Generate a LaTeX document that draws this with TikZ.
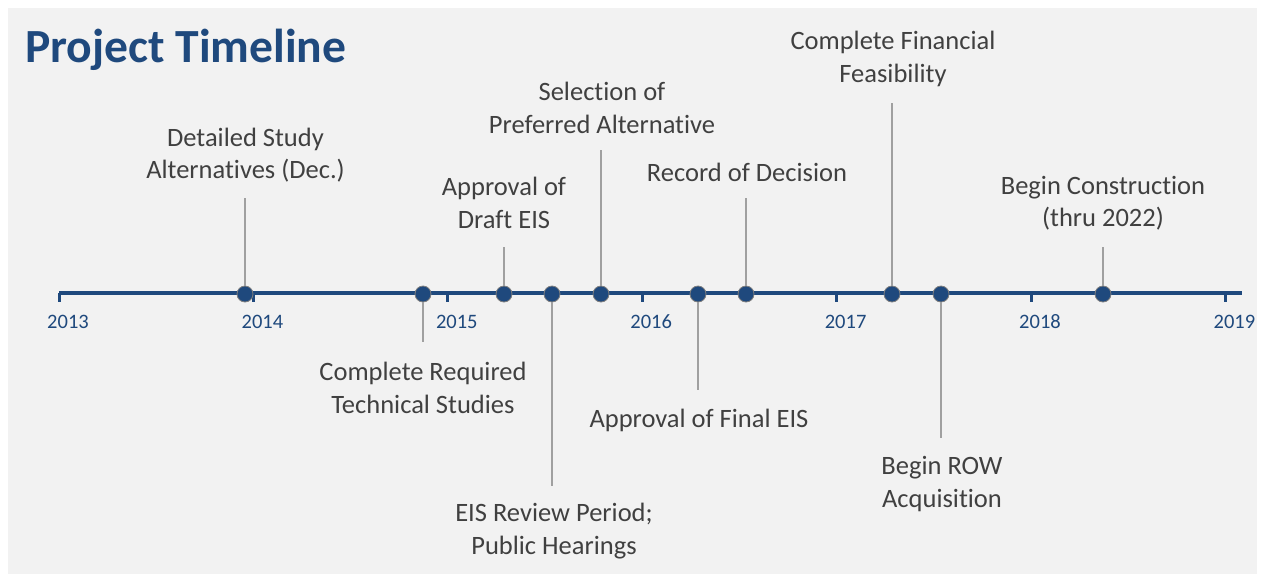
\documentclass[tikz,border=0pt]{standalone}
\usepackage{fontspec}
\setmainfont{Carlito}[Ligatures={NoCommon}]
\definecolor{tlblue}{HTML}{1F497D}
\definecolor{bggray}{HTML}{F2F2F2}
\definecolor{txtgray}{HTML}{404040}
\definecolor{conngray}{HTML}{A0A0A0}
\definecolor{dotedge}{HTML}{7F7F7F}
\tikzset{
  ev/.style={circle, minimum size=16pt, inner sep=0pt, fill=tlblue, draw=dotedge, line width=0.8pt},
  lbl/.style={align=center, text=txtgray, font=\fontsize{26.5}{32.5}\selectfont, inner sep=0pt},
  yr/.style={text=tlblue, font=\fontsize{20.5}{22}\selectfont, inner sep=0pt},
  conn/.style={draw=conngray, line width=1.2pt},
  axis/.style={draw=tlblue, line width=4pt},
  tick/.style={draw=tlblue, line width=3pt}
}
\begin{document}
\begin{tikzpicture}[x=1pt,y=-1pt]
\useasboundingbox (0,0) rectangle (1264,574);
\fill[white] (0,0) rectangle (1264,574);
\fill[bggray] (8,8) rectangle (1257,574);
\node[anchor=west, text=tlblue, font=\fontsize{47.6}{50}\selectfont\bfseries, inner sep=0pt] (title) at (25,50) {Project Timeline};
% axis
\coordinate (a0) at (59,293);
\coordinate (a1) at (1242,293);
\draw[axis] (a0) -- (a1);
\foreach \i/\y in {0/2013,1/2014,2/2015,3/2016,4/2017,5/2018,6/2019}{
  \coordinate (t\y) at ({59+194.4*\i},293);
  \draw[tick] (t\y) -- ++(0,9);
  \node[yr] (y\y) at ({59+194.4*\i+9},322) {\y};
}
% events
\node[ev] (d1) at (245,294) {};
\node[ev] (d2) at (423,294) {};
\node[ev] (d3) at (504,294) {};
\node[ev] (d4) at (552,294) {};
\node[ev] (d5) at (601,294) {};
\node[ev] (d6) at (698,294) {};
\node[ev] (d7) at (746,294) {};
\node[ev] (d8) at (892,294) {};
\node[ev] (d9) at (941,294) {};
\node[ev] (d10) at (1103,294) {};
% connector ends
\coordinate (c1) at (245,198);
\coordinate (c2) at (423,342);
\coordinate (c3) at (504,247);
\coordinate (c4) at (552,486);
\coordinate (c5) at (601,150);
\coordinate (c6) at (698,390);
\coordinate (c7) at (746,198);
\coordinate (c8) at (892,103);
\coordinate (c9) at (941,438);
\coordinate (c10) at (1103,247);
\foreach \k in {1,...,10}{\draw[conn] (d\k) -- (c\k);}
% labels
\node[lbl] (l1) at (245.5,155) {Detailed Study\\Alternatives (Dec.)};
\node[lbl] (l2) at (423,388) {Complete Required\\Technical Studies};
\node[lbl] (l3) at (504,203) {Approval of\\Draft EIS};
\node[lbl] (l4) at (554,531) {EIS Review Period;\\Public Hearings};
\node[lbl] (l5) at (602,108) {Selection of\\Preferred Alternative};
\node[lbl] (l6) at (699,420) {Approval of Final EIS};
\node[lbl] (l7) at (747,172) {Record of Decision};
\node[lbl] (l8) at (893,59) {Complete Financial\\Feasibility};
\node[lbl] (l9) at (942,484) {Begin ROW\\Acquisition};
\node[lbl] (l10) at (1103,203) {Begin Construction\\(thru 2022)};
\end{tikzpicture}
\end{document}
